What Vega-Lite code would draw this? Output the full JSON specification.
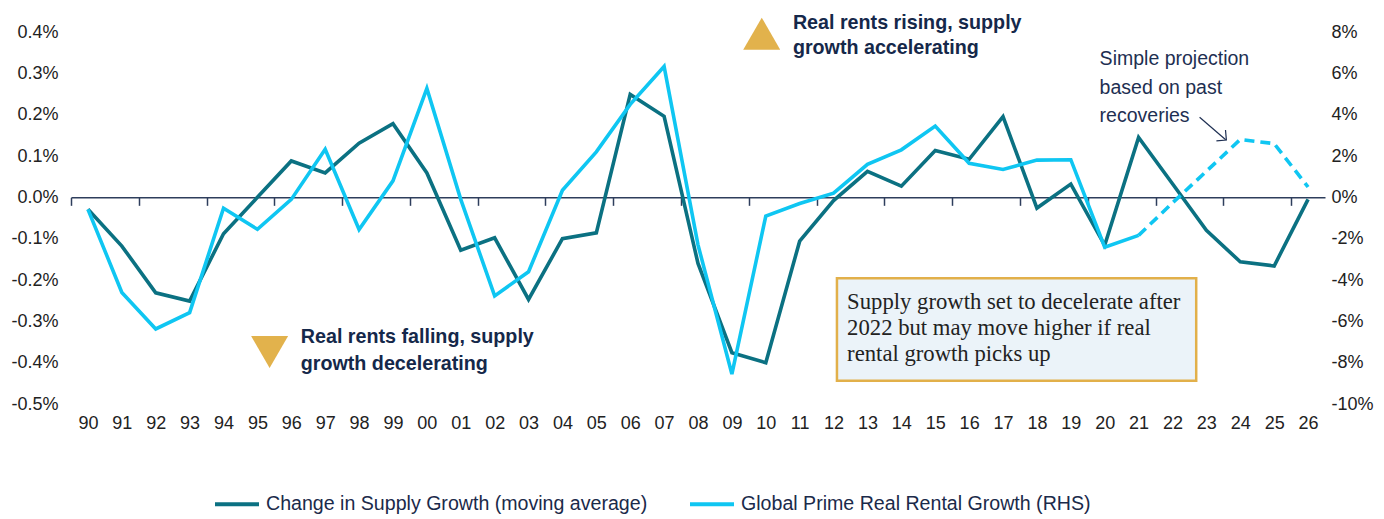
{
  "$schema": "https://vega.github.io/schema/vega-lite/v6.json",
  "width": 1254,
  "height": 372,
  "autosize": {"type": "none"},
  "padding": {"left": 71, "top": 32, "right": 59, "bottom": 115},
  "background": "white",
  "config": {
    "view": {"stroke": null},
    "font": "Liberation Sans, Arial, sans-serif",
    "axis": {"labelFont": "Liberation Sans, Arial, sans-serif"},
    "legend": {"labelFont": "Liberation Sans, Arial, sans-serif"}
  },
  "datasets": {
    "supply": [
      {"yr": 1990, "s": -0.029}, {"yr": 1991, "s": -0.118}, {"yr": 1992, "s": -0.231},
      {"yr": 1993, "s": -0.251}, {"yr": 1994, "s": -0.088}, {"yr": 1995, "s": 0.0},
      {"yr": 1996, "s": 0.088}, {"yr": 1997, "s": 0.059}, {"yr": 1998, "s": 0.131},
      {"yr": 1999, "s": 0.178}, {"yr": 2000, "s": 0.059}, {"yr": 2001, "s": -0.128},
      {"yr": 2002, "s": -0.098}, {"yr": 2003, "s": -0.247}, {"yr": 2004, "s": -0.1},
      {"yr": 2005, "s": -0.086}, {"yr": 2006, "s": 0.249}, {"yr": 2007, "s": 0.196},
      {"yr": 2008, "s": -0.16}, {"yr": 2009, "s": -0.376}, {"yr": 2010, "s": -0.4},
      {"yr": 2011, "s": -0.106}, {"yr": 2012, "s": -0.008}, {"yr": 2013, "s": 0.063},
      {"yr": 2014, "s": 0.027}, {"yr": 2015, "s": 0.113}, {"yr": 2016, "s": 0.092},
      {"yr": 2017, "s": 0.195}, {"yr": 2018, "s": -0.026}, {"yr": 2019, "s": 0.032},
      {"yr": 2020, "s": -0.116}, {"yr": 2021, "s": 0.145}, {"yr": 2022, "s": 0.033},
      {"yr": 2023, "s": -0.08}, {"yr": 2024, "s": -0.156}, {"yr": 2025, "s": -0.166},
      {"yr": 2026, "s": -0.005}
    ],
    "rent": [
      {"yr": 1990, "r": -0.58}, {"yr": 1991, "r": -4.6}, {"yr": 1992, "r": -6.37},
      {"yr": 1993, "r": -5.58}, {"yr": 1994, "r": -0.53}, {"yr": 1995, "r": -1.55},
      {"yr": 1996, "r": -0.1}, {"yr": 1997, "r": 2.33}, {"yr": 1998, "r": -1.56},
      {"yr": 1999, "r": 0.8}, {"yr": 2000, "r": 5.27}, {"yr": 2001, "r": -0.1},
      {"yr": 2002, "r": -4.77}, {"yr": 2003, "r": -3.6}, {"yr": 2004, "r": 0.34},
      {"yr": 2005, "r": 2.2}, {"yr": 2006, "r": 4.5}, {"yr": 2007, "r": 6.33},
      {"yr": 2008, "r": -2.3}, {"yr": 2009, "r": -8.55}, {"yr": 2010, "r": -0.91},
      {"yr": 2011, "r": -0.3}, {"yr": 2012, "r": 0.2}, {"yr": 2013, "r": 1.6},
      {"yr": 2014, "r": 2.3}, {"yr": 2015, "r": 3.45}, {"yr": 2016, "r": 1.65},
      {"yr": 2017, "r": 1.35}, {"yr": 2018, "r": 1.8}, {"yr": 2019, "r": 1.82},
      {"yr": 2020, "r": -2.41}, {"yr": 2021, "r": -1.84}, {"yr": 2022, "r": -0.27},
      {"yr": 2023, "r": 1.26}, {"yr": 2024, "r": 2.8}, {"yr": 2025, "r": 2.6},
      {"yr": 2026, "r": 0.5}
    ]
  },
  "layer": [
    {
      "data": {"name": "supply"},
      "mark": {"type": "line", "strokeWidth": 3.6},
      "encoding": {
        "x": {
          "field": "yr", "type": "quantitative",
          "scale": {"domain": [1989.5, 2026.5], "nice": false, "zero": false},
          "axis": {
            "orient": "bottom", "title": null, "grid": false, "domain": false, "ticks": false,
            "values": [1990,1991,1992,1993,1994,1995,1996,1997,1998,1999,2000,2001,2002,2003,2004,2005,2006,2007,2008,2009,2010,2011,2012,2013,2014,2015,2016,2017,2018,2019,2020,2021,2022,2023,2024,2025,2026],
            "labelExpr": "format(datum.value % 100, '02d')",
            "labelFontSize": 18, "labelColor": "#222222", "labelPadding": 10, "labelDx": -4,
            "labelFlush": false, "labelOverlap": false, "labelBound": false
          }
        },
        "y": {
          "field": "s", "type": "quantitative",
          "scale": {"domain": [-0.5, 0.4], "nice": false, "zero": false},
          "axis": {
            "orient": "left", "title": null, "grid": false, "domain": false, "ticks": false,
            "values": [-0.5,-0.4,-0.3,-0.2,-0.1,0,0.1,0.2,0.3,0.4],
            "labelExpr": "(datum.value < -0.00001 ? '-' : '') + format(abs(datum.value), '.1f') + '%'",
            "labelFontSize": 18, "labelColor": "#222222", "labelPadding": 13, "labelOverlap": false
          }
        },
        "color": {
          "datum": "Change in Supply Growth (moving average)", "type": "nominal",
          "scale": {
            "domain": ["Change in Supply Growth (moving average)", "Global Prime Real Rental Growth (RHS)"],
            "range": ["#0B7182", "#0FC6F2"]
          },
          "legend": {
            "title": null, "orient": "none", "legendX": 142, "legendY": 448, "direction": "horizontal",
            "symbolType": "stroke", "symbolSize": 1936, "symbolStrokeWidth": 4,
            "labelFontSize": 19.6, "labelColor": "#1B2A4A", "labelOffset": 5,
            "columnPadding": 34, "padding": 0, "labelLimit": 600
          }
        }
      }
    },
    {
      "layer": [
        {
          "data": {"name": "rent"},
          "transform": [{"filter": "datum.yr <= 2021"}],
          "mark": {"type": "line", "strokeWidth": 3.6},
          "encoding": {
            "x": {
              "field": "yr", "type": "quantitative",
              "scale": {"domain": [1989.5, 2026.5], "nice": false, "zero": false},
              "axis": {
                "orient": "bottom", "offset": -206.67, "title": null, "grid": false, "labels": false,
                "domain": true, "domainColor": "#2E3E5C", "domainWidth": 1.5,
                "ticks": true, "tickColor": "#2E3E5C", "tickWidth": 1.5, "tickSize": 8,
                "values": [1989.5,1990.5,1991.5,1992.5,1993.5,1994.5,1995.5,1996.5,1997.5,1998.5,1999.5,2000.5,2001.5,2002.5,2003.5,2004.5,2005.5,2006.5,2007.5,2008.5,2009.5,2010.5,2011.5,2012.5,2013.5,2014.5,2015.5,2016.5,2017.5,2018.5,2019.5,2020.5,2021.5,2022.5,2023.5,2024.5,2025.5,2026.5]
              }
            },
            "y": {
              "field": "r", "type": "quantitative",
              "scale": {"domain": [-10, 8], "nice": false, "zero": false},
              "axis": {
                "orient": "right", "title": null, "grid": false, "domain": false, "ticks": false,
                "values": [-10,-8,-6,-4,-2,0,2,4,6,8],
                "labelExpr": "(datum.value < 0 ? '-' : '') + format(abs(datum.value), 'd') + '%'",
                "labelFontSize": 18, "labelColor": "#222222", "labelPadding": 6, "labelOverlap": false
              }
            },
            "color": {
              "datum": "Global Prime Real Rental Growth (RHS)", "type": "nominal",
              "scale": {
                "domain": ["Change in Supply Growth (moving average)", "Global Prime Real Rental Growth (RHS)"],
                "range": ["#0B7182", "#0FC6F2"]
              }
            }
          }
        },
        {
          "data": {"name": "rent"},
          "transform": [{"filter": "datum.yr >= 2021"}],
          "mark": {"type": "line", "strokeWidth": 3.6, "strokeDash": [10, 6]},
          "encoding": {
            "x": {"field": "yr", "type": "quantitative", "scale": {"domain": [1989.5, 2026.5], "nice": false, "zero": false}},
            "y": {"field": "r", "type": "quantitative", "scale": {"domain": [-10, 8], "nice": false, "zero": false}},
            "color": {
              "datum": "Global Prime Real Rental Growth (RHS)", "type": "nominal",
              "scale": {
                "domain": ["Change in Supply Growth (moving average)", "Global Prime Real Rental Growth (RHS)"],
                "range": ["#0B7182", "#0FC6F2"]
              }
            }
          }
        }
      ]
    },
    {
      "layer": [
        {
          "data": {"values": [{}]},
          "mark": {"type": "point", "shape": "triangle-up", "size": 1370, "filled": true, "fill": "#E2B24C", "opacity": 1, "strokeWidth": 0},
          "encoding": {
            "x": {"datum": 2009.88, "type": "quantitative", "axis": null, "scale": {"domain": [1989.5, 2026.5], "nice": false, "zero": false}},
            "y": {"datum": 0.396, "type": "quantitative", "axis": null, "scale": {"domain": [-0.5, 0.4], "nice": false, "zero": false}}
          }
        },
        {
          "data": {"values": [{}]},
          "mark": {"type": "text", "text": ["Real rents rising, supply", "growth accelerating"], "align": "left", "baseline": "alphabetic", "fontSize": 19.7, "fontWeight": "bold", "lineHeight": 25, "color": "#15284A", "font": "Liberation Sans, Arial, sans-serif"},
          "encoding": {
            "x": {"datum": 2010.8, "type": "quantitative", "axis": null, "scale": {"domain": [1989.5, 2026.5], "nice": false, "zero": false}},
            "y": {"datum": 0.4065, "type": "quantitative", "axis": null, "scale": {"domain": [-0.5, 0.4], "nice": false, "zero": false}}
          }
        },
        {
          "data": {"values": [{}]},
          "mark": {"type": "point", "shape": "triangle-down", "size": 1370, "filled": true, "fill": "#E2B24C", "opacity": 1, "strokeWidth": 0},
          "encoding": {
            "x": {"datum": 1995.36, "type": "quantitative", "axis": null, "scale": {"domain": [1989.5, 2026.5], "nice": false, "zero": false}},
            "y": {"datum": -0.374, "type": "quantitative", "axis": null, "scale": {"domain": [-0.5, 0.4], "nice": false, "zero": false}}
          }
        },
        {
          "data": {"values": [{}]},
          "mark": {"type": "text", "text": ["Real rents falling, supply", "growth decelerating"], "align": "left", "baseline": "alphabetic", "fontSize": 19.7, "fontWeight": "bold", "lineHeight": 27, "color": "#15284A", "font": "Liberation Sans, Arial, sans-serif"},
          "encoding": {
            "x": {"datum": 1996.28, "type": "quantitative", "axis": null, "scale": {"domain": [1989.5, 2026.5], "nice": false, "zero": false}},
            "y": {"datum": -0.353, "type": "quantitative", "axis": null, "scale": {"domain": [-0.5, 0.4], "nice": false, "zero": false}}
          }
        },
        {
          "data": {"values": [{}]},
          "mark": {"type": "rect", "fill": "#EBF3F9", "stroke": "#E2B04A", "strokeWidth": 2.5},
          "encoding": {
            "x": {"datum": 2012.1, "type": "quantitative", "axis": null, "scale": {"domain": [1989.5, 2026.5], "nice": false, "zero": false}},
            "x2": {"datum": 2022.7},
            "y": {"datum": -0.196, "type": "quantitative", "axis": null, "scale": {"domain": [-0.5, 0.4], "nice": false, "zero": false}},
            "y2": {"datum": -0.4437}
          }
        },
        {
          "data": {"values": [{}]},
          "mark": {"type": "text", "text": ["Supply growth set to decelerate after", "2022 but may move higher if real", "rental growth picks up"], "align": "left", "baseline": "alphabetic", "fontSize": 22.7, "lineHeight": 26, "color": "#222222", "font": "Liberation Serif, serif"},
          "encoding": {
            "x": {"datum": 2012.4, "type": "quantitative", "axis": null, "scale": {"domain": [1989.5, 2026.5], "nice": false, "zero": false}},
            "y": {"datum": -0.271, "type": "quantitative", "axis": null, "scale": {"domain": [-0.5, 0.4], "nice": false, "zero": false}}
          }
        },
        {
          "data": {"values": [{}]},
          "mark": {"type": "text", "text": ["Simple projection", "based on past", "recoveries"], "align": "left", "baseline": "alphabetic", "fontSize": 19.5, "lineHeight": 28.5, "color": "#1E2F52", "font": "Liberation Sans, Arial, sans-serif"},
          "encoding": {
            "x": {"datum": 2019.85, "type": "quantitative", "axis": null, "scale": {"domain": [1989.5, 2026.5], "nice": false, "zero": false}},
            "y": {"datum": 0.32, "type": "quantitative", "axis": null, "scale": {"domain": [-0.5, 0.4], "nice": false, "zero": false}}
          }
        },
        {
          "data": {"values": [{}]},
          "mark": {"type": "rule", "color": "#1E2F52", "strokeWidth": 1.2},
          "encoding": {
            "x": {"datum": 2022.8, "type": "quantitative", "axis": null, "scale": {"domain": [1989.5, 2026.5], "nice": false, "zero": false}},
            "x2": {"datum": 2023.57},
            "y": {"datum": 0.1936, "type": "quantitative", "axis": null, "scale": {"domain": [-0.5, 0.4], "nice": false, "zero": false}},
            "y2": {"datum": 0.1392}
          }
        },
        {
          "data": {"values": [{}]},
          "mark": {"type": "point", "shape": "M-1,-1L0,0L-1,1", "filled": false, "stroke": "#1E2F52", "strokeWidth": 1.2, "size": 200, "angle": 40, "opacity": 1},
          "encoding": {
            "x": {"datum": 2023.59, "type": "quantitative", "axis": null, "scale": {"domain": [1989.5, 2026.5], "nice": false, "zero": false}},
            "y": {"datum": 0.1387, "type": "quantitative", "axis": null, "scale": {"domain": [-0.5, 0.4], "nice": false, "zero": false}}
          }
        }
      ]
    }
  ],
  "resolve": {"scale": {"y": "independent"}, "axis": {"x": "independent"}}
}
